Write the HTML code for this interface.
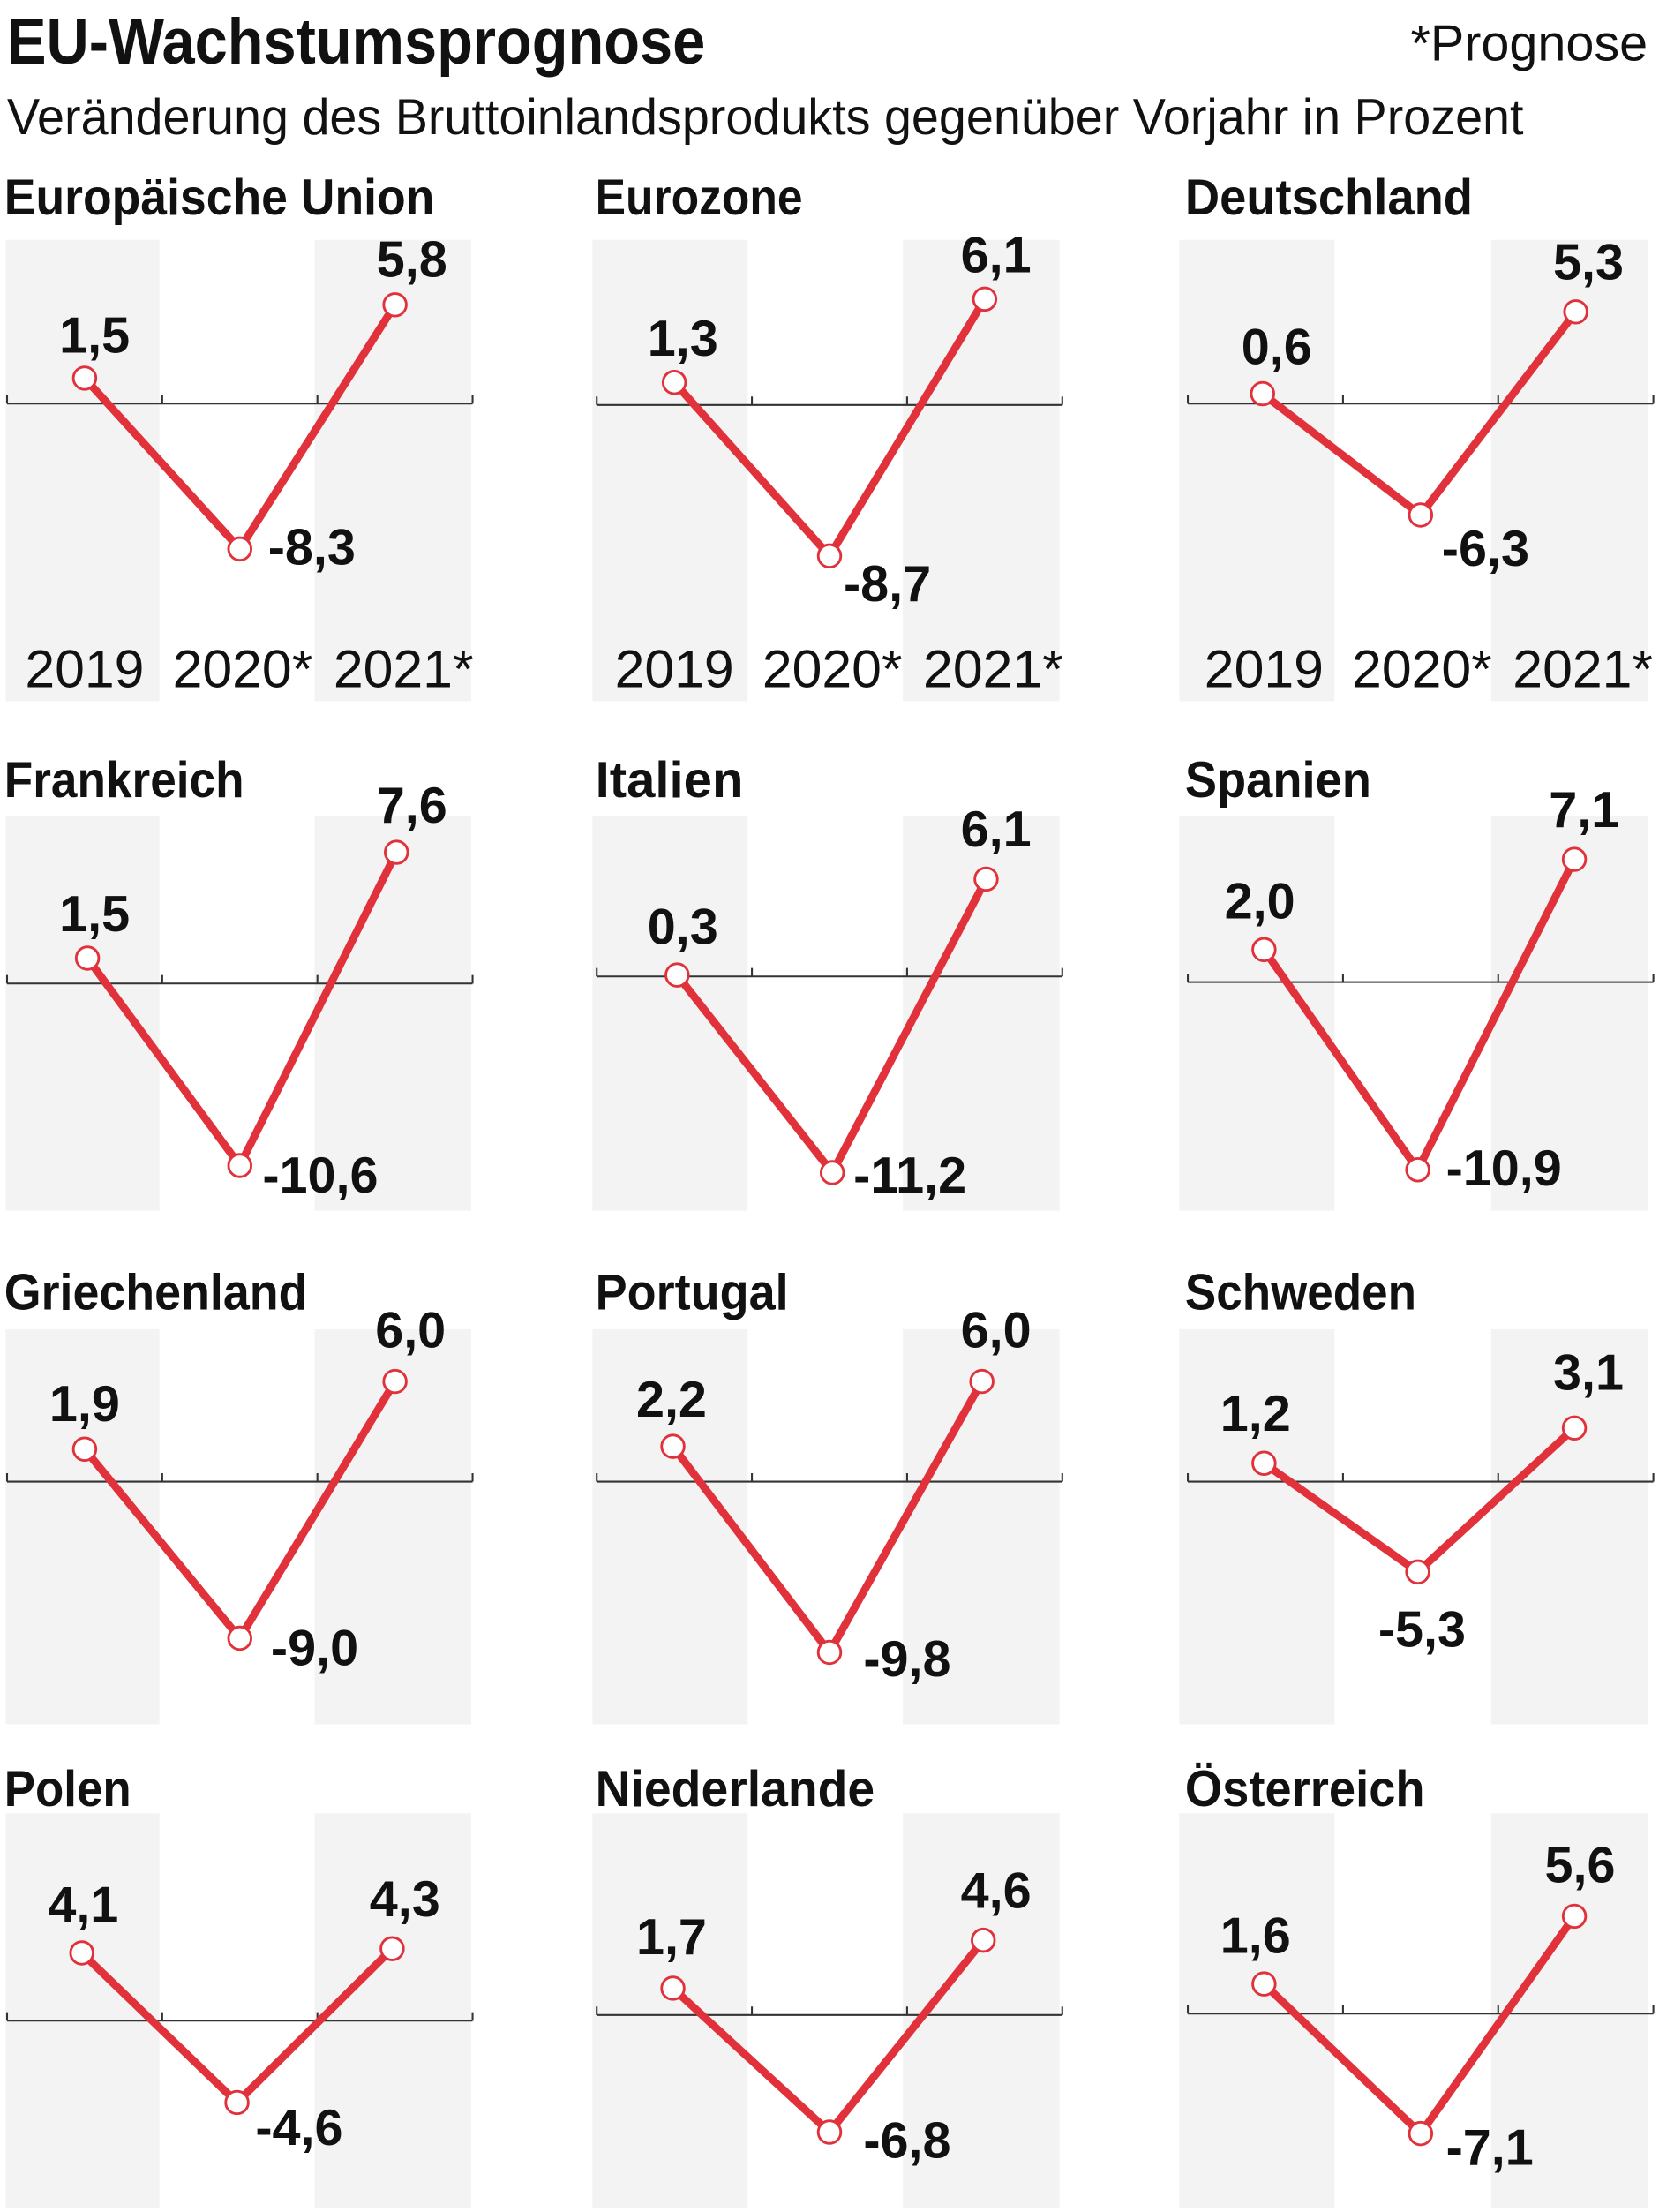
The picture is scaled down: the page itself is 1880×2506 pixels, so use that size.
<!DOCTYPE html>
<html><head><meta charset="utf-8"><style>
html,body{margin:0;padding:0;background:#fff;}
svg{display:block;}
text{font-family:"Liberation Sans Narrow","Liberation Sans",sans-serif;fill:#111;}
.b{font-weight:bold;}
.v{font-weight:bold;font-size:36px;text-anchor:middle;}
.n{font-weight:bold;font-size:36px;}
.y{font-size:38px;text-anchor:middle;font-family:"Liberation Sans",sans-serif;}
.band{fill:#f3f3f3;}
.ax{stroke:#333;stroke-width:1.3;fill:none;}
.ln{stroke:#e1313a;stroke-width:5.5;fill:none;stroke-linejoin:round;}
.pt{fill:#fff;stroke:#e1313a;stroke-width:1.8;}
</style></head><body>
<svg width="1880" height="2506" viewBox="0 0 1176 1567.6" preserveAspectRatio="none">
<text x="5" y="45" class="b" font-size="46" textLength="495" lengthAdjust="spacingAndGlyphs">EU-Wachstumsprognose</text>
<text x="1168" y="43" font-size="36" text-anchor="end">*Prognose</text>
<text x="5" y="95" font-size="36" textLength="1075" lengthAdjust="spacingAndGlyphs">Veränderung des Bruttoinlandsprodukts gegenüber Vorjahr in Prozent</text>

<g class="band">
<rect x="4" y="170" width="109" height="327"/><rect x="223" y="170" width="111" height="327"/>
<rect x="420" y="170" width="110" height="327"/><rect x="640" y="170" width="111" height="327"/>
<rect x="836" y="170" width="110" height="327"/><rect x="1057" y="170" width="111" height="327"/>
<rect x="4" y="578" width="109" height="280"/><rect x="223" y="578" width="111" height="280"/>
<rect x="420" y="578" width="110" height="280"/><rect x="640" y="578" width="111" height="280"/>
<rect x="836" y="578" width="110" height="280"/><rect x="1057" y="578" width="111" height="280"/>
<rect x="4" y="942" width="109" height="280"/><rect x="223" y="942" width="111" height="280"/>
<rect x="420" y="942" width="110" height="280"/><rect x="640" y="942" width="111" height="280"/>
<rect x="836" y="942" width="110" height="280"/><rect x="1057" y="942" width="111" height="280"/>
<rect x="4" y="1285" width="109" height="280"/><rect x="223" y="1285" width="111" height="280"/>
<rect x="420" y="1285" width="110" height="280"/><rect x="640" y="1285" width="111" height="280"/>
<rect x="836" y="1285" width="110" height="280"/><rect x="1057" y="1285" width="111" height="280"/>
</g>

<g class="b" font-size="36">
<text x="3" y="152" textLength="305" lengthAdjust="spacingAndGlyphs">Europäische Union</text>
<text x="422" y="152" textLength="147" lengthAdjust="spacingAndGlyphs">Eurozone</text>
<text x="840" y="152" textLength="204" lengthAdjust="spacingAndGlyphs">Deutschland</text>
<text x="3" y="565" textLength="170" lengthAdjust="spacingAndGlyphs">Frankreich</text>
<text x="422" y="565" textLength="105" lengthAdjust="spacingAndGlyphs">Italien</text>
<text x="840" y="565" textLength="132" lengthAdjust="spacingAndGlyphs">Spanien</text>
<text x="3" y="928" textLength="215" lengthAdjust="spacingAndGlyphs">Griechenland</text>
<text x="422" y="928" textLength="137" lengthAdjust="spacingAndGlyphs">Portugal</text>
<text x="840" y="928" textLength="164" lengthAdjust="spacingAndGlyphs">Schweden</text>
<text x="3" y="1280" textLength="90" lengthAdjust="spacingAndGlyphs">Polen</text>
<text x="422" y="1280" textLength="198" lengthAdjust="spacingAndGlyphs">Niederlande</text>
<text x="840" y="1280" textLength="170" lengthAdjust="spacingAndGlyphs">Österreich</text>
</g>

<path class="ax" d="M5 286H335M5 280V286M115 280V286M225 280V286M335 280V286"/>
<path class="ax" d="M423 287H753M423 281V287M533 281V287M643 281V287M753 281V287"/>
<path class="ax" d="M842 286H1172M842 280V286M952 280V286M1062 280V286M1172 280V286"/>
<path class="ax" d="M5 697H335M5 691V697M115 691V697M225 691V697M335 691V697"/>
<path class="ax" d="M423 692H753M423 686V692M533 686V692M643 686V692M753 686V692"/>
<path class="ax" d="M842 696H1172M842 690V696M952 690V696M1062 690V696M1172 690V696"/>
<path class="ax" d="M5 1050H335M5 1044V1050M115 1044V1050M225 1044V1050M335 1044V1050"/>
<path class="ax" d="M423 1050H753M423 1044V1050M533 1044V1050M643 1044V1050M753 1044V1050"/>
<path class="ax" d="M842 1050H1172M842 1044V1050M952 1044V1050M1062 1044V1050M1172 1044V1050"/>
<path class="ax" d="M5 1432H335M5 1426V1432M115 1426V1432M225 1426V1432M335 1426V1432"/>
<path class="ax" d="M423 1428H753M423 1422V1428M533 1422V1428M643 1422V1428M753 1422V1428"/>
<path class="ax" d="M842 1427H1172M842 1421V1427M952 1421V1427M1062 1421V1427M1172 1421V1427"/>

<g class="ln">
<polyline points="60,268 170,389 280,216"/>
<polyline points="478,271 588,394 698,212"/>
<polyline points="895,279 1007,365 1117,221"/>
<polyline points="62,679 170,826 281,604"/>
<polyline points="480,691 590,831 699,623"/>
<polyline points="896,673 1005,829 1116,609"/>
<polyline points="60,1027 170,1161 280,979"/>
<polyline points="477,1025 588,1171 696,979"/>
<polyline points="896,1037 1005,1114 1116,1012"/>
<polyline points="58,1384 168,1490 278,1381"/>
<polyline points="477,1409 588,1511 697,1375"/>
<polyline points="896,1406 1007,1512 1116,1358"/>
</g>
<g class="pt">
<circle cx="60" cy="268" r="8"/><circle cx="170" cy="389" r="8"/><circle cx="280" cy="216" r="8"/>
<circle cx="478" cy="271" r="8"/><circle cx="588" cy="394" r="8"/><circle cx="698" cy="212" r="8"/>
<circle cx="895" cy="279" r="8"/><circle cx="1007" cy="365" r="8"/><circle cx="1117" cy="221" r="8"/>
<circle cx="62" cy="679" r="8"/><circle cx="170" cy="826" r="8"/><circle cx="281" cy="604" r="8"/>
<circle cx="480" cy="691" r="8"/><circle cx="590" cy="831" r="8"/><circle cx="699" cy="623" r="8"/>
<circle cx="896" cy="673" r="8"/><circle cx="1005" cy="829" r="8"/><circle cx="1116" cy="609" r="8"/>
<circle cx="60" cy="1027" r="8"/><circle cx="170" cy="1161" r="8"/><circle cx="280" cy="979" r="8"/>
<circle cx="477" cy="1025" r="8"/><circle cx="588" cy="1171" r="8"/><circle cx="696" cy="979" r="8"/>
<circle cx="896" cy="1037" r="8"/><circle cx="1005" cy="1114" r="8"/><circle cx="1116" cy="1012" r="8"/>
<circle cx="58" cy="1384" r="8"/><circle cx="168" cy="1490" r="8"/><circle cx="278" cy="1381" r="8"/>
<circle cx="477" cy="1409" r="8"/><circle cx="588" cy="1511" r="8"/><circle cx="697" cy="1375" r="8"/>
<circle cx="896" cy="1406" r="8"/><circle cx="1007" cy="1512" r="8"/><circle cx="1116" cy="1358" r="8"/>
</g>

<text class="v" x="67" y="250">1,5</text><text class="n" x="190" y="400">-8,3</text><text class="v" x="292" y="196">5,8</text>
<text class="v" x="484" y="252">1,3</text><text class="n" x="598" y="426">-8,7</text><text class="v" x="706" y="193">6,1</text>
<text class="v" x="905" y="258">0,6</text><text class="n" x="1022" y="401">-6,3</text><text class="v" x="1126" y="198">5,3</text>
<text class="v" x="67" y="660">1,5</text><text class="n" x="186" y="845">-10,6</text><text class="v" x="292" y="583">7,6</text>
<text class="v" x="484" y="669">0,3</text><text class="n" x="605" y="845">-11,2</text><text class="v" x="706" y="600">6,1</text>
<text class="v" x="893" y="651">2,0</text><text class="n" x="1025" y="840">-10,9</text><text class="v" x="1123" y="586">7,1</text>
<text class="v" x="60" y="1007">1,9</text><text class="n" x="192" y="1180">-9,0</text><text class="v" x="291" y="955">6,0</text>
<text class="v" x="476" y="1004">2,2</text><text class="n" x="612" y="1188">-9,8</text><text class="v" x="706" y="955">6,0</text>
<text class="v" x="890" y="1014">1,2</text><text class="v" x="1008" y="1167">-5,3</text><text class="v" x="1126" y="985">3,1</text>
<text class="v" x="59" y="1362">4,1</text><text class="n" x="181" y="1520">-4,6</text><text class="v" x="287" y="1358">4,3</text>
<text class="v" x="476" y="1385">1,7</text><text class="n" x="612" y="1529">-6,8</text><text class="v" x="706" y="1352">4,6</text>
<text class="v" x="890" y="1384">1,6</text><text class="n" x="1025" y="1534">-7,1</text><text class="v" x="1120" y="1334">5,6</text>

<text class="y" x="60" y="487">2019</text><text class="y" x="172" y="487">2020*</text><text class="y" x="286" y="487">2021*</text>
<text class="y" x="478" y="487">2019</text><text class="y" x="590" y="487">2020*</text><text class="y" x="704" y="487">2021*</text>
<text class="y" x="896" y="487">2019</text><text class="y" x="1008" y="487">2020*</text><text class="y" x="1122" y="487">2021*</text>
</svg>
</body></html>
